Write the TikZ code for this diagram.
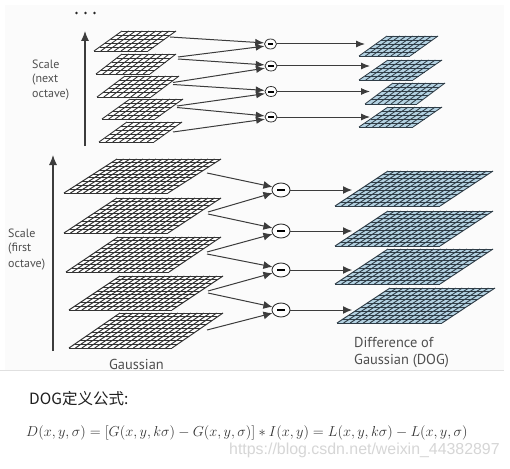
\documentclass[tikz,border=0pt]{standalone}
\usepackage{fontspec}
\usetikzlibrary{arrows.meta,shapes.geometric}
\newfontfamily\labelfont{PT Sans}
\newfontfamily\cjkfont{Noto Sans CJK SC}
\newfontfamily\wmfont{Liberation Sans}
\definecolor{gridline}{HTML}{333333}
\definecolor{doggrid}{HTML}{2F3D47}
\definecolor{dogfill}{HTML}{B4D2E2}
\definecolor{labelgray}{HTML}{4F4F4F}
\definecolor{linkgray}{HTML}{3C3C3C}
% args: name, TLx, TRx, BRx, ytop, ybot
\newcommand{\gridplane}[6]{%
  \coordinate (#1-tl) at (#2,#5);%
  \coordinate (#1-tr) at (#3,#5);%
  \fill[planefill] (#2,#5) -- (#3,#5) -- (#4,#6) -- (#4-#3+#2,#6) -- cycle;%
  \pgfmathsetmacro{\dx}{(#3-#2)/\ncol}%
  \pgfmathsetmacro{\sx}{(#4-#3)}%
  \foreach \i in {0,...,\ncol}{%
    \draw[planeline] ({#2+\i*\dx},#5) -- ({#2+\i*\dx+\sx},#6);}%
  \foreach \j in {0,...,\nrow}{%
    \draw[planeline] ({#2+\sx*\j/\nrow},{#5+(#6-#5)*\j/\nrow}) -- ({#3+\sx*\j/\nrow},{#5+(#6-#5)*\j/\nrow});}%
}
\tikzset{
  planefill/.style={fill=white},
  planeline/.style={draw=gridline,line width=\planewd},
  link/.style={draw=linkgray,line width=1pt,-{Latex[length=9pt,width=8pt]}},
  smalllink/.style={draw=linkgray,line width=1pt,-{Latex[length=9pt,width=7pt]}},
  axis/.style={draw=linkgray,line width=1.1pt,-{Latex[length=10pt,width=8pt]}},
  bigsub/.style={draw=gridline,fill=white,ellipse,line width=0.9pt,minimum width=18pt,minimum height=14pt,inner sep=0pt},
  smallsub/.style={draw=gridline,fill=white,ellipse,line width=0.8pt,minimum width=12pt,minimum height=10pt,inner sep=0pt},
  caption/.style={text=labelgray,font=\labelfont\fontsize{12}{14}\selectfont,anchor=west,align=left,inner sep=0pt},
  bigcaption/.style={text=labelgray,font=\labelfont\fontsize{14.4}{16}\selectfont,inner sep=0pt},
}
\begin{document}
\begin{tikzpicture}[x=1pt,y=-1pt]
\useasboundingbox (0,0) rectangle (510,468);
\fill[white] (0,0) rectangle (510,468);
\fill[black!1.5] (5,5) rectangle (504,370);
\draw[black!12,line width=0.5pt] (0,370.5) -- (504,370.5);

% small Gaussian planes
\def\planewd{0.9pt}
\def\ncol{8}\def\nrow{5}
\gridplane{a}{122}{176}{148}{31}{51}
\gridplane{b}{122}{176}{150}{54}{74}
\gridplane{c}{125}{179}{151}{76}{97}
\gridplane{d}{130}{183}{155}{99}{119}
\gridplane{e}{127}{182}{154}{122}{142}
% large Gaussian planes
\def\planewd{1pt}
\def\ncol{16}\def\nrow{9}
\gridplane{f}{117}{221}{168}{159}{193}
\gridplane{g}{117}{221}{168}{198}{233}
\gridplane{h}{118}{221}{169}{237}{272}
\gridplane{i}{120}{223}{172}{276}{310}
\gridplane{j}{120}{223}{172}{313}{348}

% DoG planes
\tikzset{planefill/.style={fill=dogfill},planeline/.style={draw=doggrid,line width=\planewd}}
\def\planewd{0.85pt}
\def\ncol{8}\def\nrow{5}
\gridplane{k}{387}{438}{410}{36}{56}
\gridplane{l}{388}{442}{413}{60}{80}
\gridplane{m}{393}{445}{417}{83}{104}
\gridplane{n}{388}{442}{413}{107}{127}
\def\planewd{0.95pt}
\def\ncol{16}\def\nrow{9}
\gridplane{o}{388}{493}{440}{171}{206}
\gridplane{p}{388}{493}{440}{211}{246}
\gridplane{q}{388}{493}{440}{249}{284}
\gridplane{r}{390}{495}{442}{288}{323}

% subtraction nodes
\node[smallsub] (s1) at (270.5,44) {\rule{5.5pt}{2pt}};
\node[smallsub] (s2) at (271,66) {\rule{5.5pt}{2pt}};
\node[smallsub] (s3) at (271,91.5) {\rule{5.5pt}{2pt}};
\node[smallsub] (s4) at (271,117) {\rule{5.5pt}{2pt}};
\node[bigsub] (b1) at (281,190) {\rule{8pt}{2.4pt}};
\node[bigsub] (b2) at (281,231) {\rule{8pt}{2.4pt}};
\node[bigsub] (b3) at (281,270) {\rule{8pt}{2.4pt}};
\node[bigsub] (b4) at (281,310) {\rule{8pt}{2.4pt}};

% free ends of the links
\coordinate (a1) at (170,37);
\coordinate (b1s) at (178,57);
\coordinate (b2s) at (178,59);
\coordinate (c1s) at (173,82.5);
\coordinate (c2s) at (173,84.5);
\coordinate (d1s) at (177,106);
\coordinate (d2s) at (177,107.5);
\coordinate (e1s) at (173,132);
\coordinate (f1s) at (207,173);
\coordinate (g1s) at (208,212);
\coordinate (g2s) at (208,214);
\coordinate (h1s) at (207,252);
\coordinate (h2s) at (207,254);
\coordinate (i1s) at (208,291);
\coordinate (i2s) at (208,293);
\coordinate (j1s) at (207,330);
\coordinate (k1e) at (365,44);
\coordinate (l1e) at (370,66);
\coordinate (m1e) at (370,91.5);
\coordinate (n1e) at (370,117);
\coordinate (o1e) at (352,190);
\coordinate (p1e) at (352,231);
\coordinate (q1e) at (352,270);
\coordinate (r1e) at (352,310);
\coordinate (ax1a) at (85,146);
\coordinate (ax1b) at (85,31);
\coordinate (ax2a) at (53,351);
\coordinate (ax2b) at (53,155);

% links
\draw[smalllink] (a1) -- (s1.170);
\draw[smalllink] (b1s) -- (s1.200);
\draw[smalllink] (b2s) -- (s2.170);
\draw[smalllink] (c1s) -- (s2.200);
\draw[smalllink] (c2s) -- (s3.170);
\draw[smalllink] (d1s) -- (s3.200);
\draw[smalllink] (d2s) -- (s4.170);
\draw[smalllink] (e1s) -- (s4.200);
\draw[link] (f1s) -- (b1.160);
\draw[link] (g1s) -- (b1.200);
\draw[link] (g2s) -- (b2.160);
\draw[link] (h1s) -- (b2.200);
\draw[link] (h2s) -- (b3.160);
\draw[link] (i1s) -- (b3.200);
\draw[link] (i2s) -- (b4.160);
\draw[link] (j1s) -- (b4.200);
\draw[smalllink] (s1) -- (k1e);
\draw[smalllink] (s2) -- (l1e);
\draw[smalllink] (s3) -- (m1e);
\draw[smalllink] (s4) -- (n1e);
\draw[link] (b1) -- (o1e);
\draw[link] (b2) -- (p1e);
\draw[link] (b3) -- (q1e);
\draw[link] (b4) -- (r1e);

% axes
\draw[axis] (ax1a) -- (ax1b);
\draw[axis] (ax2a) -- (ax2b);

% dots
\fill[black!85] (76.5,13) circle (1.3pt) (85.5,13) circle (1.3pt) (94.5,13) circle (1.3pt);

% labels
\node[caption] (t1) at (32,64) {Scale};
\node[caption] (t2) at (32,80) {(next};
\node[caption] (t3) at (32,95) {octave)};
\node[caption] (t4) at (8,233) {Scale};
\node[caption] (t5) at (8,249) {(first};
\node[caption] (t6) at (8,265) {octave)};
\node[bigcaption] (t7) at (136.5,364) {Gaussian};
\node[bigcaption,anchor=west] (t8) at (354,342) {Difference of};
\node[bigcaption,anchor=west] (t9) at (354,361) {Gaussian (DOG)};

\node[anchor=west,font=\cjkfont\fontsize{15.5}{17}\selectfont,text=black!88,inner sep=0pt] (t10) at (29,399) {DOG定义公式:};
\node[anchor=west,inner sep=0pt,text=black!80] (t11) at (26,433)
  {\fontsize{14}{16}\selectfont$D(x,y,\sigma)=[G(x,y,k\sigma)-G(x,y,\sigma)]*I(x,y)=L(x,y,k\sigma)-L(x,y,\sigma)$};
\node[anchor=west,inner sep=0pt,text=black!16,font=\wmfont\fontsize{15.9}{17}\selectfont] (t12) at (229,450) {https://blog.csdn.net/weixin\_44382897};
\end{tikzpicture}
\end{document}
